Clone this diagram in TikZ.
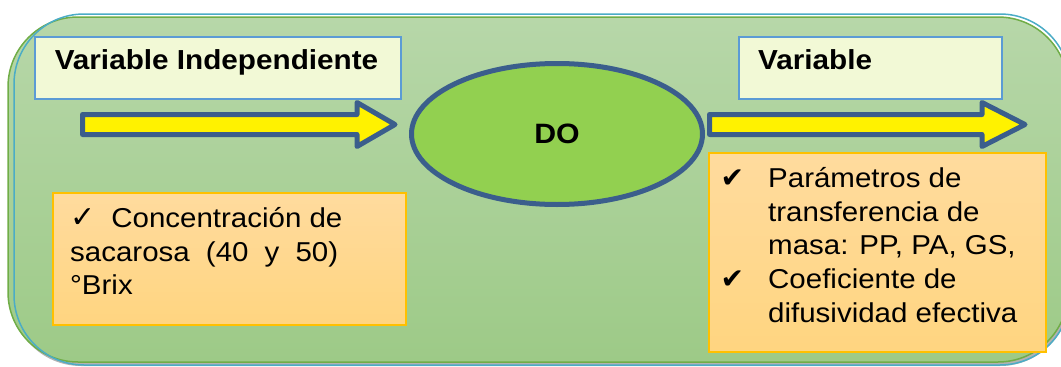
\documentclass[tikz,border=0pt]{standalone}
\usepackage{fontspec}
\setmainfont{Liberation Sans}[FakeStretch=1.08]
\newfontfamily\symfont{DejaVu Sans}
\usetikzlibrary{shapes.geometric}
\definecolor{bgtop}{RGB}{183,215,169}
\definecolor{bgbot}{RGB}{157,202,135}
\definecolor{bggreen}{RGB}{112,173,71}
\definecolor{bgblue}{RGB}{75,172,198}
\definecolor{titlefill}{RGB}{242,249,214}
\definecolor{titleline}{RGB}{91,155,213}
\definecolor{orgtop}{RGB}{255,219,158}
\definecolor{orgbot}{RGB}{255,213,128}
\definecolor{orgline}{RGB}{255,192,0}
\definecolor{navy}{RGB}{59,94,140}
\definecolor{dofill}{RGB}{146,208,80}
\newcommand{\chkthin}{{\symfont\fontsize{30}{30}\selectfont ✓}}
\newcommand{\chkbold}{{\symfont\fontsize{28}{28}\selectfont ✔}}
\begin{document}
\begin{tikzpicture}[x=1pt,y=-1pt,
  titlebox/.style={draw=titleline,line width=2pt,fill=titlefill,inner sep=0pt,anchor=north west},
  titletext/.style={font=\bfseries\fontsize{27.5}{34}\selectfont,inner sep=0pt},
  orangebox/.style={draw=orgline,line width=2.5pt,top color=orgtop,bottom color=orgbot},
  bodytext/.style={font=\fontsize{27.3}{33.8}\selectfont,inner sep=0pt,anchor=north west,align=left},
  blockarrow/.style={draw=navy,line width=5pt,fill=yellow,line join=round}]
\useasboundingbox (0,0) rectangle (1061,367);
% background panel
\fill[gray!60, rounded corners=70pt] (11,21) rectangle (1070,366);
\shade[top color=bgtop,bottom color=bgbot, rounded corners=70pt] (8,17) rectangle (1068,362);
\draw[bggreen,line width=1.5pt, rounded corners=70pt] (8,17) rectangle (1068,362);
\draw[bgblue,line width=1.5pt, rounded corners=70pt] (14,14) rectangle (1070,365);
% title boxes
\node[titlebox,minimum width=366pt,minimum height=62pt] (vi) at (34,36) {};
\node[titletext,anchor=base] (vitext) at (216.5,69) {Variable Independiente};
\node[titlebox,minimum width=263pt,minimum height=62pt] (vd) at (738,36) {};
\node[titletext,anchor=base west] (vdtext) at (758,69) {Variable};
% central ellipse
\node[ellipse,draw=navy,line width=5pt,fill=dofill,minimum width=291pt,minimum height=141pt,inner sep=0pt,
  font=\bfseries\fontsize{28}{34}\selectfont] (do) at (557,134) {DO};
% arrows
\draw[blockarrow] (82.5,114.5) -- (357,114.5) -- (357,102.5) -- (395,124.5) -- (357,146.5) -- (357,134.5) -- (82.5,134.5) -- cycle;
\draw[blockarrow] (709.5,114.5) -- (982,114.5) -- (982,102.5) -- (1025,124.5) -- (982,146.5) -- (982,134.5) -- (709.5,134.5) -- cycle;
% orange boxes
\draw[orangebox] (53,193) rectangle (406,325);
\draw[orangebox] (709,153) rectangle (1046,352);
\node[bodytext] (ltext) at (70,203) {\rule{0pt}{24pt}\chkthin\hspace{16pt}Concentración de\\
\makebox[268pt][s]{sacarosa (40 y 50)}\\
°Brix};
\node[bodytext] (rtext) at (768,163) {\rule{0pt}{24pt}\llap{\chkbold\hspace{24pt}}Parámetros de\\
transferencia de\\
masa: PP, PA, GS,\\
\llap{\chkbold\hspace{24pt}}Coeficiente de\\
difusividad efectiva};
\end{tikzpicture}
\end{document}
